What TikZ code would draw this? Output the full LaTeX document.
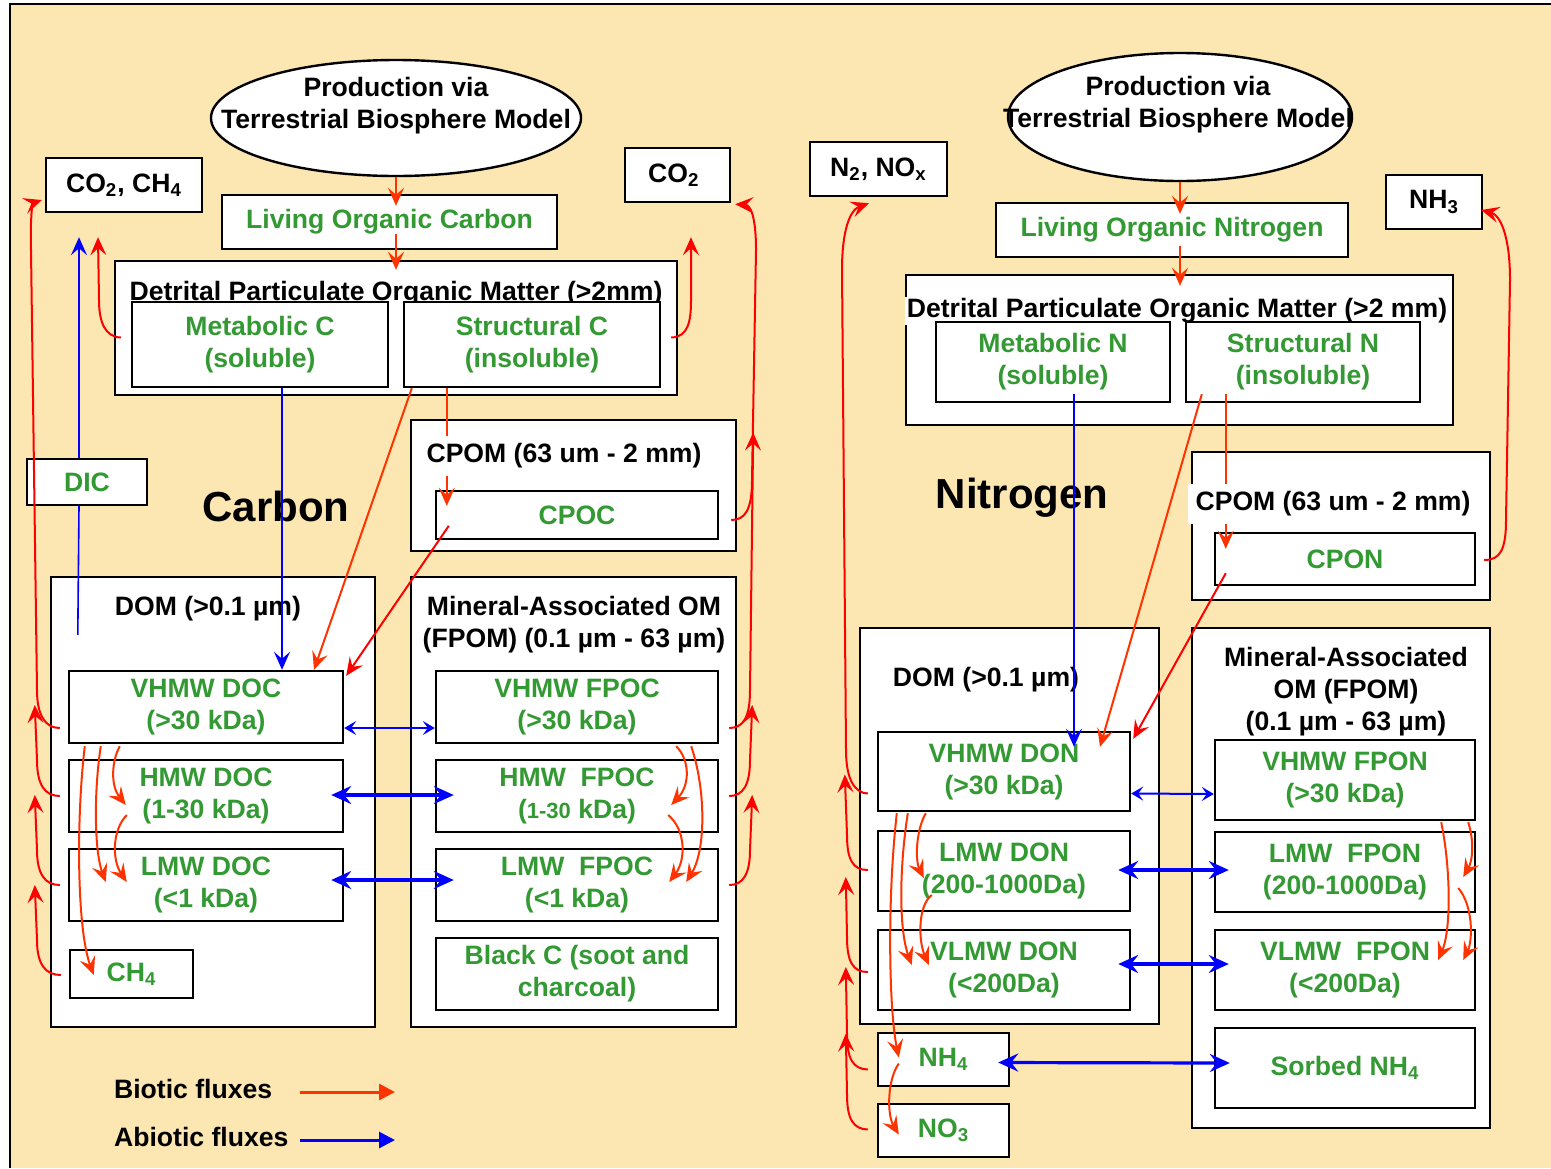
\documentclass[tikz,border=0pt]{standalone}
\usepackage{fontspec}
\setmainfont{Liberation Sans}
\usepackage{tikz}
\usetikzlibrary{arrows.meta,calc,shapes.geometric,positioning}
\definecolor{soil-bg}{RGB}{252,230,178}
\definecolor{pool-green}{RGB}{51,153,51}
\definecolor{bio-red}{RGB}{255,51,0}
\definecolor{gas-red}{RGB}{255,0,0}
\definecolor{abio-blue}{RGB}{0,0,255}
\tikzset{
    pool-box/.style = {draw=black, fill=white, line width=1.2pt, rectangle, inner sep=0pt, text=pool-green, align=center},
    frame-box/.style = {draw=black, fill=white, line width=1.2pt, rectangle, inner sep=0pt},
    gas-box/.style = {draw=black, fill=white, line width=1.2pt, rectangle, inner sep=0pt},
    prod-ellipse/.style = {draw=black, fill=white, line width=1.2pt, ellipse, inner sep=0pt},
    frame-title/.style = {align=center, inner sep=1pt},
    big-title/.style = {font=\bfseries\fontsize{21}{25}\selectfont},
    bio-flux/.style = {draw=bio-red, line width=1pt, -{Stealth[length=9pt, width=8pt, inset=3.5pt]}},
    gas-flux/.style = {draw=gas-red, line width=1pt, -{Stealth[length=9pt, width=8pt, inset=3.5pt]}},
    abio-line/.style = {draw=abio-blue, line width=0.8pt},
    abio-flux/.style = {draw=abio-blue, line width=0.8pt, -{Stealth[length=9pt, width=8pt, inset=3.5pt]}},
    abio-thin/.style = {draw=abio-blue, line width=1pt, {Stealth[length=6pt, width=7pt, inset=2.5pt]}-{Stealth[length=6pt, width=7pt, inset=2.5pt]}},
    abio-both/.style = {draw=abio-blue, line width=1.6pt, {Stealth[length=10pt, width=9pt, inset=3.5pt]}-{Stealth[length=10pt, width=9pt, inset=3.5pt]}},
    legend-bio/.style = {draw=bio-red, line width=1.5pt, -{Triangle[length=8pt, width=8pt]}},
    legend-abio/.style = {draw=abio-blue, line width=1.5pt, -{Triangle[length=8pt, width=8pt]}},
}

\begin{document}
\begin{tikzpicture}[x=0.5pt, y=-0.5pt, font=\bfseries\fontsize{13.3}{16}\selectfont]
\useasboundingbox (0,0) rectangle (1551,1168);
\fill[soil-bg] (10,4) rectangle (1551,1168);
\draw[line width=1.2pt] (10,1168) -- (10,4) -- (1551,4);

% ---------- Carbon ----------
\node[prod-ellipse, minimum width=185pt, minimum height=58pt] (ellC) at (396,118) {};
\node[align=center] (ellC-text) at (396,106) {Production via\\Terrestrial Biosphere Model};
\node[gas-box, minimum width=78pt, minimum height=27pt] (co2ch4) at (124,185) {CO\textsubscript{2}, CH\textsubscript{4}};
\node[gas-box, minimum width=52.5pt, minimum height=27pt] (co2C) at (677.5,175) {CO\textsubscript{2}\ \ };
\node[pool-box, minimum width=167.5pt, minimum height=27pt] (livC) at (389.5,222) {Living Organic Carbon};
\node[frame-box, minimum width=281pt, minimum height=67pt] (detC) at (396,328) {};
\node[frame-title] (detC-title) at (396,294) {Detrital Particulate Organic Matter (>2mm)};
\node[pool-box, minimum width=128pt, minimum height=42.5pt] (metC) at (260,344.5) {Metabolic C\\(soluble)};
\node[pool-box, minimum width=128pt, minimum height=42.5pt] (strC) at (532,344.5) {Structural C\\(insoluble)};
\node[frame-box, minimum width=162.5pt, minimum height=65.5pt] (cpomC) at (573.5,485.5) {};
\node[pool-box, minimum width=141pt, minimum height=24pt] (cpoc) at (577,515) {CPOC};
\node[pool-box, minimum width=60pt, minimum height=23pt] (dic) at (87,482) {DIC};
\node[big-title] (carbon) at (276,506) {Carbon};

\node[frame-box, minimum width=162pt, minimum height=225pt] (domC) at (213,802) {};
\node[frame-title] (domC-title) at (208,609) {DOM (>0.1 µm)};
\node[frame-box, minimum width=162.5pt, minimum height=225pt] (minC) at (573.5,802) {};
\node[frame-title] (minC-title) at (574,625) {Mineral-Associated OM\\(FPOM) (0.1 µm - 63 µm)};

\node[pool-box, minimum width=137pt, minimum height=36pt] (vhmwdoc) at (206,707) {VHMW DOC\\(>30 kDa)};
\node[pool-box, minimum width=137pt, minimum height=36pt] (hmwdoc) at (206,796) {HMW DOC\\(1-30 kDa)};
\node[pool-box, minimum width=137pt, minimum height=36pt] (lmwdoc) at (206,885) {LMW DOC\\(<1 kDa)};
\node[pool-box, minimum width=61.5pt, minimum height=24pt] (ch4) at (131.5,974) {CH\textsubscript{4}};
\node[pool-box, minimum width=141pt, minimum height=36pt] (vhmwfpoc) at (577,707) {VHMW FPOC\\(>30 kDa)};
\node[pool-box, minimum width=141pt, minimum height=36pt] (hmwfpoc) at (577,796) {HMW\ \ FPOC\\({\fontsize{11}{16}\selectfont 1-30} kDa)};
\node[pool-box, minimum width=141pt, minimum height=36pt] (lmwfpoc) at (577,885) {LMW\ \ FPOC\\(<1 kDa)};
\node[pool-box, minimum width=141pt, minimum height=36pt] (blackc) at (577,974) {Black C (soot and\\charcoal)};

% legend
\node[anchor=west] (bio-legend) at (107,1089) {Biotic fluxes};
\node[anchor=west] (abio-legend) at (107,1137) {Abiotic fluxes};
\coordinate (bio-start) at (300,1092);
\coordinate (bio-end) at (395,1092);
\coordinate (abio-start) at (300,1140);
\coordinate (abio-end) at (395,1140);
\draw[legend-bio] (bio-start) -- (bio-end);
\draw[legend-abio] (abio-start) -- (abio-end);

% fluxes, carbon side
\draw[bio-flux, shorten >=-6pt] (ellC.south) -- (ellC.south |- livC.north);
\draw[bio-flux, shorten <=-8pt, shorten >=-5pt] (ellC.south |- livC.south) -- (ellC.south |- detC.north);
\draw[abio-flux] ($(metC.south)+(22,0)$) -- ($(vhmwdoc.north)+(76,0)$);
\draw[bio-flux] ($(strC.south west)+(9,0)$) -- ($(vhmwdoc.north)+(108,0)$);
\draw[bio-flux] ($(strC.south west)+(44,0)$) -- ($(cpoc.north west)+(12,16)$);
\draw[gas-flux] ($(cpoc.north west)+(14,36)$) -- ($(vhmwdoc.north east)+(2,6)$);
\draw[abio-line] ($(domC.north west)+(28,59)$) -- ($(dic.south)+(-8,0)$);
\draw[abio-flux] ($(dic.north)+(-8,0)$) -- ($(co2ch4.south)+(-45,24)$);
\draw[gas-flux] ($(metC.west)+(-10,-7)$) .. controls (105,337) and (99,322) .. (99,300) -- ($(co2ch4.south)+(-26,24)$);
\draw[gas-flux] ($(strC.east)+(10,-7)$) .. controls (688,337) and (691,322) .. (691,300) -- ($(co2C.south)+(13.5,34)$);

\draw[gas-flux] ($(vhmwdoc.west)+(-8,21)$) .. controls (45,728) and (37,715) .. (37,690) -- (31,250) .. controls (30,215) and (33,203) .. ($(co2ch4.west)+(-3,15)$);
\draw[gas-flux] ($(hmwdoc.west)+(-8,0)$) .. controls (45,796) and (37,785) .. (37,760) -- ($(vhmwdoc.west)+(-33,-2)$);
\draw[gas-flux] ($(lmwdoc.west)+(-8,0)$) .. controls (45,885) and (37,874) .. (37,850) -- ($(hmwdoc.west)+(-33,-1)$);
\draw[gas-flux] ($(ch4.west)+(-8,1)$) .. controls (46,975) and (37,965) .. (37,940) -- ($(lmwdoc.west)+(-33,0)$);

\draw[gas-flux] ($(cpoc.east)+(12,5)$) .. controls (745,520) and (752,510) .. (752,480) -- (756,250) .. controls (756,215) and (750,205) .. ($(co2C.south east)+(4,1)$);
\draw[gas-flux] ($(vhmwfpoc.east)+(10,21)$) .. controls (743,728) and (750,718) .. (750,690) -- ($(cpomC.east)+(16,-53)$);
\draw[gas-flux] ($(hmwfpoc.east)+(10,0)$) .. controls (743,796) and (750,785) .. (750,760) -- ($(vhmwfpoc.east)+(33,-2)$);
\draw[gas-flux] ($(lmwfpoc.east)+(10,0)$) .. controls (743,885) and (750,874) .. (750,850) -- ($(hmwfpoc.east)+(33,-1)$);

\draw[bio-flux] ($(vhmwdoc.south west)+(52,2)$) .. controls (112,760) and (110,785) .. ($(hmwdoc.west)+(58,9)$);
\draw[bio-flux] ($(vhmwdoc.south west)+(33,2)$) .. controls (94,790) and (94,850) .. ($(lmwdoc.west)+(38,-3)$);
\draw[bio-flux] ($(vhmwdoc.south west)+(17,2)$) .. controls (76,820) and (77,930) .. ($(ch4.west)+(25,1)$);
\draw[bio-flux] ($(hmwdoc.west)+(59,19)$) .. controls (112,830) and (112,860) .. ($(lmwdoc.west)+(59,-3)$);
\draw[bio-flux] ($(vhmwfpoc.south east)+(-43,2)$) .. controls (690,760) and (690,785) .. ($(hmwfpoc.east)+(-48,9)$);
\draw[bio-flux] ($(vhmwfpoc.south east)+(-28,2)$) .. controls (706,790) and (706,850) .. ($(lmwfpoc.east)+(-33,-3)$);
\draw[bio-flux] ($(hmwfpoc.east)+(-51,19)$) .. controls (686,830) and (686,860) .. ($(lmwfpoc.east)+(-50,-3)$);

\draw[abio-thin] ($(vhmwdoc.east)+(0,21)$) -- ($(vhmwfpoc.west)+(0,21)$);
\draw[abio-both] ($(hmwdoc.east)+(-13,-1)$) -- ($(hmwfpoc.west)+(19,-1)$);
\draw[abio-both] ($(lmwdoc.east)+(-13,-5)$) -- ($(lmwfpoc.west)+(19,-5)$);

\node[frame-title, fill=white, inner sep=4pt] (cpomC-title) at (564,456) {CPOM (63 um - 2 mm)};

% ---------- Nitrogen ----------
\node[prod-ellipse, minimum width=172pt, minimum height=64pt] (ellN) at (1180,117) {};
\node[align=center] (ellN-text) at (1178,105) {Production via\\Terrestrial Biosphere Model};
\node[gas-box, minimum width=68.5pt, minimum height=27pt] (n2nox) at (878.5,169) {N\textsubscript{2}, NO\textsubscript{x}};
\node[gas-box, minimum width=48pt, minimum height=27pt] (nh3) at (1434,202) {NH\textsubscript{3}};
\node[pool-box, minimum width=176pt, minimum height=27pt] (livN) at (1172,230) {Living Organic Nitrogen};
\node[frame-box, minimum width=273.5pt, minimum height=75pt] (detN) at (1179.5,350) {};
\node[frame-title, fill=white] (detN-title) at (1177,311) {Detrital Particulate Organic Matter (>2 mm)};
\node[pool-box, minimum width=117pt, minimum height=40pt] (metN) at (1053,362) {Metabolic N\\(soluble)};
\node[pool-box, minimum width=117pt, minimum height=40pt] (strN) at (1303,362) {Structural N\\(insoluble)};
\node[frame-box, minimum width=149pt, minimum height=74pt] (cpomN) at (1341,526) {};
\node[pool-box, minimum width=130pt, minimum height=26pt] (cpon) at (1345,559) {CPON};
\node[big-title] (nitrogen) at (1022,498) {Nitrogen};

\node[frame-box, minimum width=149.5pt, minimum height=198pt] (domN) at (1009.5,826) {};
\node[frame-title] (domN-title) at (986,680) {DOM (>0.1 µm)};
\node[frame-box, minimum width=149pt, minimum height=250pt] (minN) at (1341,878) {};
\node[frame-title] (minN-title) at (1346,692) {Mineral-Associated\\OM (FPOM)\\(0.1 µm - 63 µm)};

\node[pool-box, minimum width=126pt, minimum height=39.5pt] (vhmwdon) at (1004,771.5) {VHMW DON\\(>30 kDa)};
\node[pool-box, minimum width=126pt, minimum height=40pt] (lmwdon) at (1004,871) {LMW DON\\(200-1000Da)};
\node[pool-box, minimum width=126pt, minimum height=40pt] (vlmwdon) at (1004,970) {VLMW DON\\(<200Da)};
\node[pool-box, minimum width=65.5pt, minimum height=26.5pt] (nh4) at (943.5,1059.5) {NH\textsubscript{4}};
\node[pool-box, minimum width=65.5pt, minimum height=26.5pt] (no3) at (943.5,1130.5) {NO\textsubscript{3}};
\node[pool-box, minimum width=130pt, minimum height=40pt] (vhmwfpon) at (1345,780) {VHMW FPON\\(>30 kDa)};
\node[pool-box, minimum width=130pt, minimum height=40pt] (lmwfpon) at (1345,872) {LMW\ \ FPON\\(200-1000Da)};
\node[pool-box, minimum width=130pt, minimum height=40pt] (vlmwfpon) at (1345,970) {VLMW\ \ FPON\\(<200Da)};
\node[pool-box, minimum width=130pt, minimum height=40pt] (sorbed) at (1345,1068) {Sorbed NH\textsubscript{4}};

% fluxes, nitrogen side
\draw[bio-flux, shorten >=-6pt] (ellN.south) -- (ellN.south |- livN.north);
\draw[bio-flux, shorten <=-6pt, shorten >=-6pt] (ellN.south |- livN.south) -- (ellN.south |- detN.north);
\draw[abio-flux] ($(metN.south)+(21,-9)$) -- ($(vhmwdon.north)+(70,16)$);
\draw[bio-flux] ($(strN.south west)+(17,-9)$) -- ($(vhmwdon.north)+(96,16)$);
\draw[bio-flux] ($(strN.south west)+(41,-9)$) -- ($(cpon.north west)+(12,17)$);
\draw[gas-flux] ($(cpon.south west)+(12,-13)$) -- ($(vhmwdon.north east)+(2,8)$);
\draw[gas-flux] ($(cpon.east)+(8,1)$) .. controls (1500,560) and (1506,550) .. (1506,520) -- (1510,280) .. controls (1510,235) and (1500,215) .. ($(nh3.east)+(-2,8)$);

\draw[gas-flux] ($(vhmwdon.west)+(-9,22)$) .. controls (855,793) and (846,780) .. (846,750) -- (842,270) .. controls (842,230) and (850,210) .. ($(n2nox.south)+(-9.5,6)$);
\draw[gas-flux] ($(lmwdon.west)+(-9,-1)$) .. controls (853,870) and (847,860) .. (847,835) -- ($(vhmwdon.west)+(-32,3)$);
\draw[gas-flux] ($(vlmwdon.west)+(-9,2)$) .. controls (853,972) and (847,962) .. (847,937) -- ($(lmwdon.west)+(-31,6)$);
\draw[gas-flux] ($(nh4.west)+(-9,10)$) .. controls (853,1069) and (847,1059) .. (847,1034) -- ($(vlmwdon.west)+(-31,-3)$);
\draw[gas-flux] ($(no3.west)+(-9,-1)$) .. controls (853,1129) and (847,1119) .. (847,1094) -- ($(nh4.west)+(-31,-26)$);

\draw[bio-flux] ($(vhmwdon.south west)+(49,1)$) .. controls (916,830) and (915,860) .. ($(lmwdon.west)+(47,7)$);
\draw[bio-flux] ($(vhmwdon.south west)+(31,1)$) .. controls (899,870) and (899,930) .. ($(vlmwdon.west)+(35,-5)$);
\draw[bio-flux] ($(vhmwdon.south west)+(20,1)$) .. controls (887,900) and (889,1010) .. ($(nh4.west)+(22,-2)$);
\draw[bio-flux] ($(lmwdon.west)+(55,24)$) .. controls (918,905) and (918,940) .. ($(vlmwdon.west)+(52,-5)$);
\draw[bio-flux] ($(nh4.west)+(22,4)$) .. controls (887,1080) and (887,1115) .. ($(no3.west)+(22,4)$);
\draw[bio-flux] ($(vhmwfpon.south east)+(-8,1)$) .. controls (1474,840) and (1473,860) .. ($(lmwfpon.east)+(-13,5)$);
\draw[bio-flux] ($(vhmwfpon.south east)+(-35,1)$) .. controls (1451,870) and (1451,930) .. ($(vlmwfpon.east)+(-38,-10)$);
\draw[bio-flux] ($(lmwfpon.east)+(-18,16)$) .. controls (1473,905) and (1473,940) .. ($(vlmwfpon.east)+(-13,-10)$);

\draw[abio-thin] ($(vhmwdon.east)+(0,22)$) -- ($(vhmwfpon.west)+(0,14)$);
\draw[abio-both] ($(lmwdon.east)+(-13,-1)$) -- ($(lmwfpon.west)+(15,-2)$);
\draw[abio-both] ($(vlmwdon.east)+(-13,-6)$) -- ($(vlmwfpon.west)+(15,-6)$);
\draw[abio-both] ($(nh4.east)+(-12,3)$) -- ($(sorbed.west)+(16,-5)$);

\node[frame-title, fill=white, inner sep=4pt] (cpomN-title) at (1333,504) {CPOM (63 um - 2 mm)};
\end{tikzpicture}
\end{document}
